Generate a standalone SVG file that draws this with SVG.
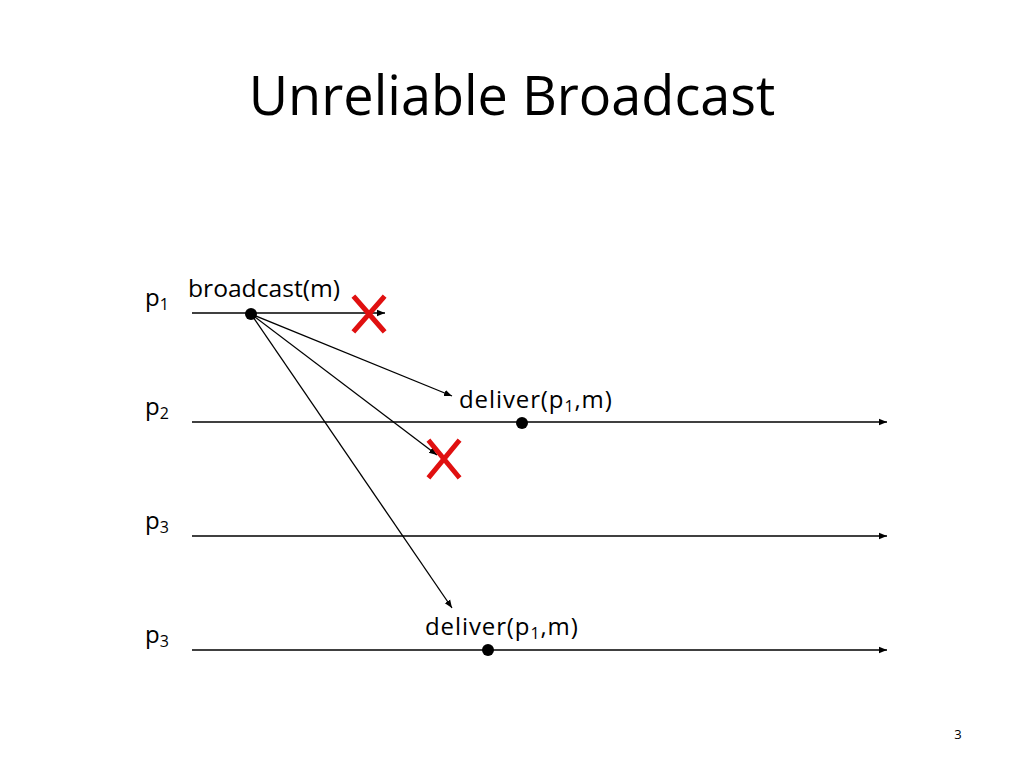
<svg xmlns="http://www.w3.org/2000/svg" width="1024" height="768" viewBox="0 0 1024 768">
<style>
text{font-family:"Open Sans","Liberation Sans",sans-serif;fill:#000}
.l{stroke:#000;stroke-width:1.3;fill:none;marker-end:url(#a)}
.x{stroke:#e01010;stroke-width:5;stroke-linecap:square}
.p{font-size:24px}
.s{font-size:16px}
.lb{font-size:24px;letter-spacing:0.9px}
</style>
<defs><marker id="a" viewBox="0 0 10 10" refX="10" refY="5" markerWidth="8" markerHeight="8" markerUnits="userSpaceOnUse" orient="auto"><path d="M0,1L10,5L0,9z" fill="#000"/></marker></defs>
<rect width="1024" height="768" fill="#fff"/>
<text x="512" y="115" font-size="54" text-anchor="middle">Unreliable Broadcast</text>
<g id="labels">
<text class="p" x="145" y="306">p<tspan class="s" dy="4">1</tspan></text>
<text class="p" x="145" y="415">p<tspan class="s" dy="4">2</tspan></text>
<text class="p" x="145" y="529">p<tspan class="s" dy="4">3</tspan></text>
<text class="p" x="145" y="643">p<tspan class="s" dy="4">3</tspan></text>
<text class="lb" x="188" y="297" style="letter-spacing:0" textLength="152" lengthAdjust="spacingAndGlyphs">broadcast(m)</text>
<text class="lb" x="459" y="408">deliver(p<tspan class="s" dy="4">1</tspan><tspan dy="-4">,m)</tspan></text>
<text class="lb" x="425" y="635">deliver(p<tspan class="s" dy="4">1</tspan><tspan dy="-4">,m)</tspan></text>
<text x="958" y="739" font-size="13" text-anchor="middle" fill="#666">3</text>
</g>
<g id="connectors">
<line class="l" x1="192" y1="313" x2="385" y2="313"/>
<line class="l" x1="192" y1="422" x2="887" y2="422"/>
<line class="l" x1="192" y1="536" x2="887" y2="536"/>
<line class="l" x1="192" y1="650" x2="887" y2="650"/>
<line class="l" x1="251" y1="314" x2="452" y2="396"/>
<line class="l" x1="251" y1="314" x2="437" y2="455"/>
<line class="l" x1="251" y1="314" x2="452" y2="608"/>
</g>
<g id="events">
<circle cx="251" cy="314" r="6"/>
<circle cx="522" cy="423" r="6"/>
<circle cx="488" cy="650" r="6"/>
</g>
<g id="losses">
<path class="x" d="M355,298L383,330M383,298L355,330"/>
<path class="x" d="M430,442L458,476M458,442L430,476"/>
</g>
</svg>
